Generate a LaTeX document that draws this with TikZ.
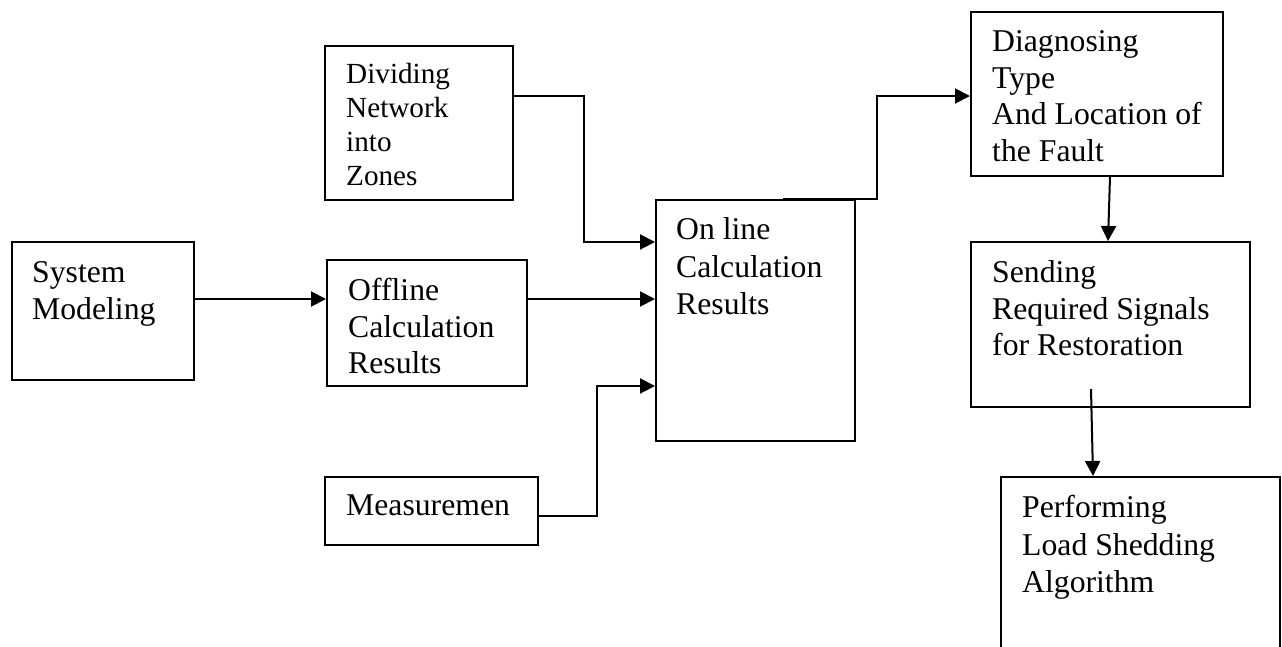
\documentclass[tikz,border=0pt]{standalone}
\usepackage{fontspec}
\setmainfont{Liberation Serif}
\usetikzlibrary{arrows.meta}

\tikzset{
  blk/.style={draw, line width=2pt, inner sep=0pt, fill=none},
  lbl/.style={inner sep=0pt, align=left, anchor=north west,
    font=\fontsize{31.7}{36.5}\selectfont},
  lblsmall/.style={lbl, font=\fontsize{29.2}{34}\selectfont},
  flow/.style={line width=2pt, -{Triangle[length=15pt,width=15pt]}},
}

\begin{document}
\begin{tikzpicture}[x=1pt, y=-1pt]
\clip (0,0) rectangle (1282,646);
\fill[white] (0,0) rectangle (1282,646);

% blocks
\node[blk, minimum width=182pt, minimum height=138pt] (sys)  at (103,311) {};
\node[blk, minimum width=200pt, minimum height=126pt] (off)  at (427,323) {};
\node[blk, minimum width=188pt, minimum height=154pt] (div)  at (419,123) {};
\node[blk, minimum width=213pt, minimum height=68pt]  (meas) at (431.5,511) {};
\node[blk, minimum width=199pt, minimum height=241pt] (onl)  at (755.5,320.5) {};
\node[blk, minimum width=252pt, minimum height=164pt] (diag) at (1097,94) {};
\node[blk, minimum width=279pt, minimum height=165pt] (send) at (1110.5,324.5) {};
\node[blk, minimum width=279pt, minimum height=223pt] (perf) at (1140.5,588.5) {};

% block texts
\node[lbl] (sys-t)  at (32,261.4)  {System\\Modeling};
\node[lbl] (off-t)  at (348,278.4) {Offline\\Calculation\\Results};
\node[lblsmall] (div-t) at (346,63.1) {Dividing\\Network\\into\\Zones};
\node[lbl] (meas-t) at (346,494.4) {Measuremen};
\node[lbl, font=\fontsize{31.7}{37.5}\selectfont] (onl-t) at (676,217.4) {On line\\Calculation\\Results};
\node[lbl] (diag-t) at (992,30.4)  {Diagnosing\\Type\\And Location of\\the Fault};
\node[lbl] (send-t) at (992,260.4) {Sending\\Required Signals\\for Restoration};
\node[lbl, font=\fontsize{31.7}{37.5}\selectfont] (perf-t) at (1022,495.4) {Performing\\Load Shedding\\Algorithm};

% routing points
\coordinate (rowA) at (0,299);
\coordinate (bDiv) at (584,96);
\coordinate (rowDiv) at (0,242);
\coordinate (bMeas) at (597,516);
\coordinate (rowMeas) at (0,386);
\coordinate (bOut) at (877,96);

% connectors
\draw[flow] (sys.east |- rowA) -- (off.west |- rowA);
\draw[flow] (off.east |- rowA) -- (onl.west |- rowA);
\draw[flow] (div.east |- bDiv) -- (bDiv) |- (onl.west |- rowDiv);
\draw[flow] (meas.east |- bMeas) -- (bMeas) |- (onl.west |- rowMeas);
\draw[flow] ([xshift=27.5pt]onl.north) -- (bOut |- onl.north) -- (bOut) -- (diag.west |- bOut);
\draw[flow] ([xshift=13pt]diag.south) -- ([xshift=-2.5pt]send.north);
\draw[flow] ([xshift=-19.5pt,yshift=19pt]send.south) -- ([xshift=-47.5pt]perf.north);
\end{tikzpicture}
\end{document}
